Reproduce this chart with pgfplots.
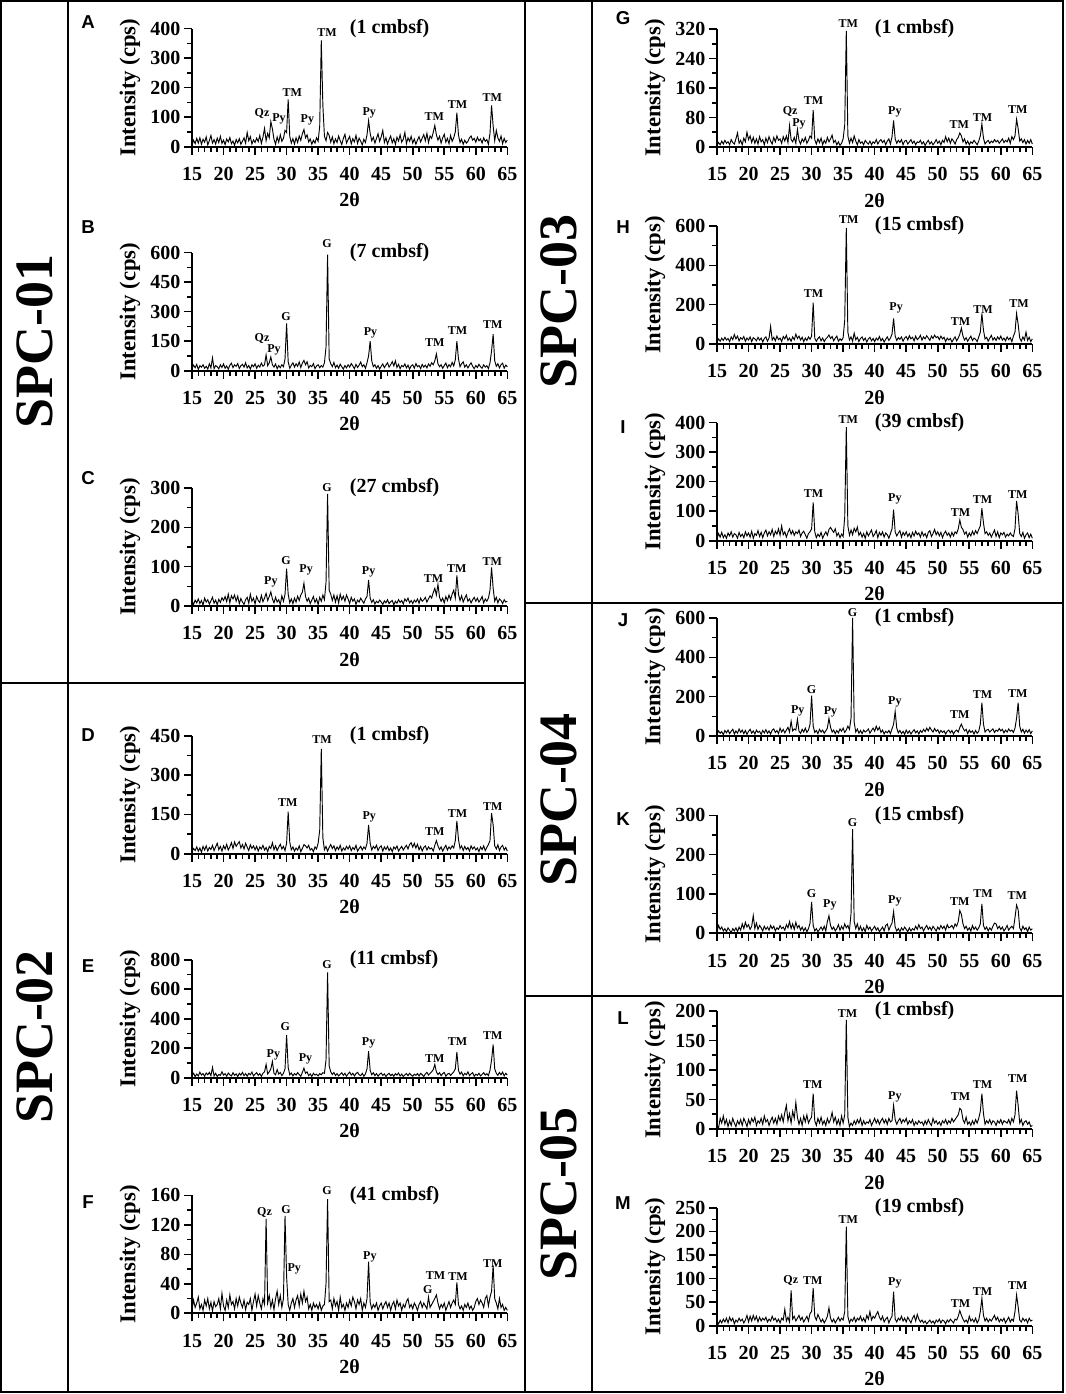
\documentclass[border=0pt]{standalone}
\usepackage{fontspec}
\setmainfont{Liberation Serif}
\newfontfamily\sansfam{Liberation Sans}
\usepackage{pgfplots}
\pgfplotsset{compat=1.18}
\newcommand\tf{\fontsize{15}{15}\selectfont\bfseries}
\newcommand\yf{\fontsize{17}{17}\selectfont\bfseries}
\newcommand\pf{\fontsize{9}{9}\selectfont\bfseries}
\newcommand\lf{\fontsize{14}{14}\selectfont\sansfam\bfseries}
\newcommand\spcf{\fontsize{40.5}{40.5}\selectfont\bfseries}
\newcommand\lab[3]{\node[font=\pf] at (axis cs:#1,#2) {#3};}
\newcommand\decor[1]{%
 \draw[line width=1.5pt] ([xshift=-6pt]rel axis cs:0,0) -- (rel axis cs:0,0);
 \node[rotate=90,font=\yf] at ([xshift=-46.5pt]rel axis cs:0,0.5) {Intensity (cps)};
 \node[font=\tf] at ([yshift=-40pt]rel axis cs:0.5,0) {2θ};
 \node[anchor=west,font=\tf] at (rel axis cs:0.486,1) {(#1 cmbsf)};}
\pgfplotsset{
 xrdline/.style={black, line width=0.7pt, mark=none},
 xrd/.style={
  scale only axis, width=236.5pt, height=88.5pt, anchor=south west,
  xmin=15, xmax=65, ymin=0,
  axis x line*=bottom, axis y line*=left,
  axis line style={line width=1.5pt},
  xtick={15,20,...,65}, minor x tick num=4, minor y tick num=1,
  tick align=outside,
  tick style={black, line width=1.2pt},
  major tick length=6pt, minor tick length=3.75pt,
  tick label style={font=\tf},
  xticklabel style={anchor=center, yshift=-14.5pt},
  yticklabel style={anchor=east, inner sep=0pt, xshift=-2.5pt},
  /pgf/number format/assume math mode=true,
  clip=false,
 }
}
\begin{document}
\begin{tikzpicture}
\useasboundingbox (0,0) rectangle (798.75pt,1045.5pt);
\draw[line width=1.5pt] (0.75pt,1.5pt) rectangle (797pt,1044.75pt);
\draw[line width=1.5pt] (51pt,1.5pt) -- (51pt,1044.75pt);
\draw[line width=1.5pt] (393.75pt,1.5pt) -- (393.75pt,1044.75pt);
\draw[line width=1.5pt] (443.75pt,1.5pt) -- (443.75pt,1044.75pt);
\draw[line width=1.5pt] (0.75pt,533.25pt) -- (393.75pt,533.25pt);
\draw[line width=1.5pt] (393.75pt,593.25pt) -- (797pt,593.25pt);
\draw[line width=1.5pt] (393.75pt,298.5pt) -- (797pt,298.5pt);
\node[rotate=90,font=\spcf] at (25.9pt,789pt) {SPC-01};
\node[rotate=90,font=\spcf] at (25.9pt,267.75pt) {SPC-02};
\node[rotate=90,font=\spcf] at (418.75pt,819pt) {SPC-03};
\node[rotate=90,font=\spcf] at (418.75pt,445.5pt) {SPC-04};
\node[rotate=90,font=\spcf] at (418.75pt,150pt) {SPC-05};
\node[font=\lf] at (66pt,1029.2pt) {A};
\node[font=\lf] at (66pt,875.5pt) {B};
\node[font=\lf] at (66pt,687pt) {C};
\node[font=\lf] at (66pt,494.25pt) {D};
\node[font=\lf] at (66pt,321pt) {E};
\node[font=\lf] at (66pt,144.2pt) {F};
\node[font=\lf] at (467.25pt,1031.8pt) {G};
\node[font=\lf] at (467.25pt,875.5pt) {H};
\node[font=\lf] at (467.25pt,725.5pt) {I};
\node[font=\lf] at (467.25pt,580.5pt) {J};
\node[font=\lf] at (467.25pt,431.25pt) {K};
\node[font=\lf] at (467.25pt,282.2pt) {L};
\node[font=\lf] at (467.25pt,143.5pt) {M};

% ---------- A ----------
\begin{axis}[xrd, at={(144pt,935.5pt)}, ymax=400, ytick={0,100,...,400}]
\addplot[xrdline] coordinates {
(15,5)(15.25,22)(15.5,10)(15.75,28)(16,12)(16.25,30)(16.5,8)(16.75,25)
(17,15)(17.25,33)(17.5,6)(17.75,20)(18,38)(18.25,12)(18.5,24)(18.75,9)
(19,29)(19.25,14)(19.5,35)(19.75,11)(20,22)(20.25,7)(20.5,26)(20.75,16)
(21,31)(21.25,10)(21.5,19)(21.75,4)(22,24)(22.25,13)(22.5,27)(22.75,8)
(23,18)(23.25,30)(23.5,12)(23.75,48)(24,20)(24.25,34)(24.5,9)(24.75,23)
(25,14)(25.25,29)(25.5,17)(25.75,38)(26,11)(26.25,32)(26.5,62)(26.75,20)
(27,45)(27.25,30)(27.5,85)(27.75,60)(28,25)(28.25,8)(28.5,33)(28.75,15)
(29,40)(29.25,18)(29.5,28)(29.75,55)(30,48)(30.25,160)(30.5,35)(30.75,12)
(31,27)(31.25,9)(31.5,30)(31.75,14)(32,36)(32.25,21)(32.5,44)(32.75,58)
(33,30)(33.25,40)(33.5,16)(33.75,26)(34,8)(34.25,22)(34.5,12)(34.75,30)
(35,18)(35.25,70)(35.5,360)(35.75,140)(36,35)(36.25,20)(36.5,48)(36.75,38)
(37,15)(37.25,33)(37.5,10)(37.75,26)(38,14)(38.25,36)(38.5,20)(38.75,7)
(39,28)(39.25,42)(39.5,12)(39.75,24)(40,35)(40.25,9)(40.5,27)(40.75,16)
(41,38)(41.25,11)(41.5,29)(41.75,18)(42,6)(42.25,25)(42.5,14)(42.75,40)
(43,88)(43.25,45)(43.5,20)(43.75,32)(44,12)(44.25,28)(44.5,44)(44.75,18)
(45,33)(45.25,55)(45.5,14)(45.75,30)(46,9)(46.25,24)(46.5,36)(46.75,13)
(47,27)(47.25,8)(47.5,32)(47.75,19)(48,40)(48.25,15)(48.5,25)(48.75,48)
(49,10)(49.25,30)(49.5,18)(49.75,35)(50,12)(50.25,26)(50.5,8)(50.75,22)
(51,34)(51.25,16)(51.5,29)(51.75,41)(52,20)(52.25,45)(52.5,14)(52.75,36)
(53,28)(53.25,48)(53.5,72)(53.75,40)(54,22)(54.25,35)(54.5,12)(54.75,30)
(55,42)(55.25,15)(55.5,28)(55.75,10)(56,38)(56.25,18)(56.5,30)(56.75,50)
(57,115)(57.25,40)(57.5,14)(57.75,25)(58,8)(58.25,22)(58.5,12)(58.75,18)
(59,30)(59.25,36)(59.5,22)(59.75,28)(60,15)(60.25,32)(60.5,20)(60.75,26)
(61,12)(61.25,30)(61.5,18)(61.75,24)(62,8)(62.25,45)(62.5,140)(62.75,70)
(63,20)(63.25,55)(63.5,30)(63.75,18)(64,36)(64.25,10)(64.5,28)(64.75,14)
(65,22)};
\lab{26.1}{114}{Qz}\lab{28.8}{93}{Py}\lab{30.9}{182}{TM}\lab{33.3}{91}{Py}
\lab{36.4}{386}{TM}\lab{43.1}{114}{Py}\lab{53.4}{102}{TM}\lab{57.1}{142}{TM}\lab{62.6}{165}{TM}
\decor{1}
\end{axis}

% ---------- B ----------
\begin{axis}[xrd, at={(144pt,767.5pt)}, ymax=600, ytick={0,150,...,600}]
\addplot[xrdline] coordinates {
(15,10)(15.25,28)(15.5,15)(15.75,32)(16,6)(16.25,25)(16.5,18)(16.75,30)
(17,12)(17.25,22)(17.5,8)(17.75,35)(18,14)(18.25,65)(18.5,10)(18.75,26)
(19,20)(19.25,9)(19.5,30)(19.75,16)(20,34)(20.25,12)(20.5,24)(20.75,7)
(21,28)(21.25,38)(21.5,15)(21.75,30)(22,22)(22.25,36)(22.5,11)(22.75,25)
(23,32)(23.25,18)(23.5,40)(23.75,14)(24,26)(24.25,8)(24.5,30)(24.75,20)
(25,35)(25.25,12)(25.5,28)(25.75,18)(26,38)(26.25,22)(26.5,30)(26.75,80)
(27,25)(27.25,40)(27.5,70)(27.75,30)(28,18)(28.25,34)(28.5,10)(28.75,26)
(29,15)(29.25,30)(29.5,20)(29.75,60)(30,240)(30.25,45)(30.5,12)(30.75,28)
(31,40)(31.25,18)(31.5,35)(31.75,22)(32,44)(32.25,16)(32.5,38)(32.75,52)
(33,30)(33.25,45)(33.5,14)(33.75,27)(34,20)(34.25,36)(34.5,10)(34.75,24)
(35,30)(35.25,15)(35.5,26)(35.75,18)(36,40)(36.25,120)(36.5,590)(36.75,60)
(37,35)(37.25,20)(37.5,42)(37.75,15)(38,28)(38.25,12)(38.5,33)(38.75,20)
(39,8)(39.25,26)(39.5,14)(39.75,30)(40,18)(40.25,36)(40.5,24)(40.75,10)
(41,32)(41.25,16)(41.5,28)(41.75,44)(42,20)(42.25,30)(42.5,12)(42.75,40)
(43,75)(43.25,150)(43.5,50)(43.75,20)(44,30)(44.25,12)(44.5,26)(44.75,8)
(45,22)(45.25,34)(45.5,15)(45.75,28)(46,40)(46.25,18)(46.5,30)(46.75,46)
(47,24)(47.25,50)(47.5,16)(47.75,32)(48,10)(48.25,26)(48.5,20)(48.75,34)
(49,14)(49.25,28)(49.5,8)(49.75,24)(50,30)(50.25,12)(50.5,36)(50.75,20)
(51,26)(51.25,10)(51.5,32)(51.75,18)(52,28)(52.25,14)(52.5,34)(52.75,22)
(53,40)(53.25,30)(53.5,50)(53.75,85)(54,35)(54.25,20)(54.5,30)(54.75,12)
(55,26)(55.25,38)(55.5,15)(55.75,30)(56,20)(56.25,42)(56.5,24)(56.75,55)
(57,150)(57.25,60)(57.5,20)(57.75,35)(58,45)(58.25,18)(58.5,30)(58.75,14)
(59,28)(59.25,40)(59.5,22)(59.75,10)(60,26)(60.25,16)(60.5,32)(60.75,20)
(61,12)(61.25,30)(61.5,18)(61.75,25)(62,10)(62.25,40)(62.5,100)(62.75,185)
(63,50)(63.25,22)(63.5,35)(63.75,14)(64,30)(64.25,38)(64.5,12)(64.75,28)
(65,20)};
\lab{26.1}{164}{Qz}\lab{28.0}{105}{Py}\lab{29.9}{275}{G}\lab{36.4}{644}{G}
\lab{43.3}{190}{Py}\lab{53.5}{142}{TM}\lab{57.1}{203}{TM}\lab{62.7}{232}{TM}
\decor{7}
\end{axis}

% ---------- C ----------
\begin{axis}[xrd, at={(144pt,591pt)}, ymax=300, ytick={0,100,...,300}]
\addplot[xrdline] coordinates {
(15,12)(15.25,4)(15.5,15)(15.75,8)(16,18)(16.25,6)(16.5,14)(16.75,2)
(17,20)(17.25,10)(17.5,16)(17.75,5)(18,13)(18.25,22)(18.5,7)(18.75,15)
(19,3)(19.25,17)(19.5,9)(19.75,21)(20,14)(20.25,24)(20.5,11)(20.75,30)
(21,8)(21.25,26)(21.5,18)(21.75,28)(22,12)(22.25,25)(22.5,6)(22.75,19)
(23,10)(23.25,4)(23.5,16)(23.75,22)(24,7)(24.25,30)(24.5,12)(24.75,20)
(25,5)(25.25,24)(25.5,14)(25.75,9)(26,27)(26.25,11)(26.5,20)(26.75,32)
(27,14)(27.25,24)(27.5,36)(27.75,18)(28,8)(28.25,22)(28.5,10)(28.75,16)
(29,4)(29.25,26)(29.5,12)(29.75,30)(30,95)(30.25,30)(30.5,8)(30.75,18)
(31,6)(31.25,20)(31.5,10)(31.75,25)(32,14)(32.25,28)(32.5,35)(32.75,58)
(33,24)(33.25,12)(33.5,20)(33.75,6)(34,15)(34.25,24)(34.5,9)(34.75,18)
(35,4)(35.25,22)(35.5,12)(35.75,28)(36,16)(36.25,60)(36.5,285)(36.75,40)
(37,30)(37.25,14)(37.5,28)(37.75,10)(38,26)(38.25,8)(38.5,30)(38.75,16)
(39,25)(39.25,12)(39.5,28)(39.75,18)(40,6)(40.25,22)(40.5,12)(40.75,18)
(41,4)(41.25,15)(41.5,10)(41.75,20)(42,13)(42.25,7)(42.5,18)(42.75,24)
(43,66)(43.25,20)(43.5,9)(43.75,16)(44,5)(44.25,12)(44.5,8)(44.75,15)
(45,10)(45.25,4)(45.5,13)(45.75,8)(46,16)(46.25,6)(46.5,11)(46.75,14)
(47,3)(47.25,12)(47.5,7)(47.75,16)(48,9)(48.25,14)(48.5,5)(48.75,18)
(49,12)(49.25,20)(49.5,8)(49.75,14)(50,6)(50.25,15)(50.5,10)(50.75,18)
(51,7)(51.25,20)(51.5,12)(51.75,16)(52,22)(52.25,10)(52.5,18)(52.75,26)
(53,20)(53.25,34)(53.5,45)(53.75,28)(54,55)(54.25,22)(54.5,12)(54.75,20)
(55,8)(55.25,24)(55.5,14)(55.75,28)(56,16)(56.25,30)(56.5,40)(56.75,20)
(57,78)(57.25,30)(57.5,14)(57.75,26)(58,10)(58.25,20)(58.5,28)(58.75,12)
(59,18)(59.25,8)(59.5,16)(59.75,22)(60,12)(60.25,20)(60.5,10)(60.75,16)
(61,24)(61.25,8)(61.5,18)(61.75,12)(62,20)(62.25,40)(62.5,98)(62.75,45)
(63,12)(63.25,22)(63.5,8)(63.75,18)(64,14)(64.25,6)(64.5,16)(64.75,10)
(65,12)};
\lab{27.5}{62}{Py}\lab{29.9}{115}{G}\lab{33.1}{93}{Py}\lab{36.4}{301}{G}
\lab{43.0}{87}{Py}\lab{53.3}{70}{TM}\lab{57.0}{95}{TM}\lab{62.6}{112}{TM}
\decor{27}
\end{axis}

% ---------- D ----------
\begin{axis}[xrd, at={(144pt,405.2pt)}, ymax=450, ytick={0,150,...,450}]
\addplot[xrdline] coordinates {
(15,8)(15.25,20)(15.5,12)(15.75,26)(16,10)(16.25,22)(16.5,6)(16.75,28)
(17,14)(17.25,30)(17.5,10)(17.75,24)(18,16)(18.25,32)(18.5,12)(18.75,26)
(19,40)(19.25,15)(19.5,28)(19.75,10)(20,30)(20.25,18)(20.5,36)(20.75,14)
(21,26)(21.25,42)(21.5,20)(21.75,45)(22,28)(22.25,38)(22.5,46)(22.75,22)
(23,35)(23.25,18)(23.5,40)(23.75,25)(24,12)(24.25,34)(24.5,20)(24.75,30)
(25,15)(25.25,28)(25.5,10)(25.75,26)(26,18)(26.25,32)(26.5,14)(26.75,24)
(27,8)(27.25,28)(27.5,20)(27.75,42)(28,15)(28.25,30)(28.5,12)(28.75,25)
(29,36)(29.25,18)(29.5,28)(29.75,12)(30,40)(30.25,160)(30.5,45)(30.75,15)
(31,26)(31.25,10)(31.5,22)(31.75,14)(32,30)(32.25,8)(32.5,20)(32.75,35)
(33,30)(33.25,22)(33.5,32)(33.75,14)(34,20)(34.25,8)(34.5,26)(34.75,18)
(35,40)(35.25,90)(35.5,400)(35.75,60)(36,15)(36.25,28)(36.5,10)(36.75,24)
(37,35)(37.25,20)(37.5,30)(37.75,12)(38,26)(38.25,16)(38.5,32)(38.75,10)
(39,22)(39.25,14)(39.5,28)(39.75,18)(40,30)(40.25,12)(40.5,24)(40.75,16)
(41,32)(41.25,10)(41.5,20)(41.75,28)(42,14)(42.25,26)(42.5,18)(42.75,40)
(43,110)(43.25,40)(43.5,14)(43.75,28)(44,20)(44.25,32)(44.5,12)(44.75,24)
(45,30)(45.25,10)(45.5,26)(45.75,16)(46,28)(46.25,12)(46.5,22)(46.75,8)
(47,26)(47.25,18)(47.5,30)(47.75,10)(48,20)(48.25,28)(48.5,14)(48.75,24)
(49,32)(49.25,18)(49.5,35)(49.75,42)(50,25)(50.25,40)(50.5,22)(50.75,36)
(51,15)(51.25,28)(51.5,10)(51.75,24)(52,30)(52.25,14)(52.5,26)(52.75,18)
(53,22)(53.25,10)(53.5,32)(53.75,50)(54,30)(54.25,16)(54.5,26)(54.75,10)
(55,22)(55.25,32)(55.5,14)(55.75,26)(56,18)(56.25,30)(56.5,22)(56.75,50)
(57,125)(57.25,55)(57.5,20)(57.75,30)(58,12)(58.25,28)(58.5,16)(58.75,24)
(59,10)(59.25,30)(59.5,18)(59.75,26)(60,14)(60.25,22)(60.5,8)(60.75,26)
(61,16)(61.25,30)(61.5,12)(61.75,24)(62,35)(62.25,50)(62.5,155)(62.75,110)
(63,30)(63.25,18)(63.5,34)(63.75,12)(64,26)(64.25,32)(64.5,14)(64.75,24)
(65,10)};
\lab{30.2}{196}{TM}\lab{35.6}{437}{TM}\lab{43.1}{141}{Py}
\lab{53.5}{84}{TM}\lab{57.1}{154}{TM}\lab{62.7}{180}{TM}
\decor{1}
\end{axis}

% ---------- E ----------
\begin{axis}[xrd, at={(144pt,237.2pt)}, ymax=800, ytick={0,200,...,800}]
\addplot[xrdline] coordinates {
(15,15)(15.25,30)(15.5,8)(15.75,25)(16,12)(16.25,38)(16.5,18)(16.75,28)
(17,10)(17.25,32)(17.5,20)(17.75,36)(18,14)(18.25,70)(18.5,12)(18.75,30)
(19,8)(19.25,22)(19.5,16)(19.75,40)(20,18)(20.25,28)(20.5,10)(20.75,32)
(21,20)(21.25,12)(21.5,34)(21.75,16)(22,26)(22.25,8)(22.5,30)(22.75,18)
(23,36)(23.25,14)(23.5,28)(23.75,10)(24,30)(24.25,20)(24.5,38)(24.75,12)
(25,24)(25.25,34)(25.5,16)(25.75,28)(26,10)(26.25,30)(26.5,40)(26.75,90)
(27,25)(27.25,40)(27.5,60)(27.75,110)(28,30)(28.25,20)(28.5,55)(28.75,25)
(29,36)(29.25,14)(29.5,30)(29.75,60)(30,290)(30.25,70)(30.5,20)(30.75,32)
(31,12)(31.25,28)(31.5,18)(31.75,34)(32,22)(32.25,10)(32.5,36)(32.75,65)
(33,30)(33.25,40)(33.5,14)(33.75,26)(34,8)(34.25,30)(34.5,18)(34.75,24)
(35,12)(35.25,28)(35.5,20)(35.75,34)(36,30)(36.25,120)(36.5,715)(36.75,80)
(37,40)(37.25,22)(37.5,36)(37.75,15)(38,28)(38.25,12)(38.5,24)(38.75,34)
(39,16)(39.25,30)(39.5,10)(39.75,26)(40,38)(40.25,18)(40.5,30)(40.75,12)
(41,28)(41.25,36)(41.5,20)(41.75,14)(42,30)(42.25,10)(42.5,26)(42.75,60)
(43,180)(43.25,50)(43.5,20)(43.75,34)(44,14)(44.25,28)(44.5,10)(44.75,24)
(45,32)(45.25,16)(45.5,26)(45.75,8)(46,22)(46.25,30)(46.5,14)(46.75,24)
(47,10)(47.25,28)(47.5,18)(47.75,32)(48,12)(48.25,24)(48.5,8)(48.75,20)
(49,28)(49.25,14)(49.5,30)(49.75,18)(50,10)(50.25,24)(50.5,16)(50.75,28)
(51,12)(51.25,30)(51.5,20)(51.75,8)(52,26)(52.25,36)(52.5,18)(52.75,30)
(53,40)(53.25,55)(53.5,90)(53.75,40)(54,22)(54.25,34)(54.5,14)(54.75,28)
(55,36)(55.25,10)(55.5,24)(55.75,30)(56,16)(56.25,28)(56.5,40)(56.75,60)
(57,175)(57.25,50)(57.5,24)(57.75,38)(58,12)(58.25,30)(58.5,20)(58.75,40)
(59,14)(59.25,26)(59.5,34)(59.75,10)(60,24)(60.25,16)(60.5,30)(60.75,12)
(61,22)(61.25,34)(61.5,18)(61.75,28)(62,14)(62.25,50)(62.5,120)(62.75,225)
(63,60)(63.25,30)(63.5,16)(63.75,36)(64,20)(64.25,38)(64.5,12)(64.75,30)
(65,18)};
\lab{27.9}{154}{Py}\lab{29.8}{347}{G}\lab{33.0}{125}{Py}\lab{36.4}{766}{G}
\lab{43.0}{238}{Py}\lab{53.5}{131}{TM}\lab{57.1}{245}{TM}\lab{62.7}{283}{TM}
\decor{11}
\end{axis}

% ---------- F ----------
\begin{axis}[xrd, at={(144pt,60.5pt)}, ymax=160, ytick={0,40,...,160}]
\addplot[xrdline] coordinates {
(15,5)(15.25,18)(15.5,8)(15.75,14)(16,22)(16.25,6)(16.5,12)(16.75,4)
(17,18)(17.25,10)(17.5,20)(17.75,6)(18,15)(18.25,3)(18.5,16)(18.75,9)
(19,12)(19.25,20)(19.5,6)(19.75,27)(20,10)(20.25,4)(20.5,18)(20.75,8)
(21,25)(21.25,12)(21.5,16)(21.75,6)(22,20)(22.25,10)(22.5,22)(22.75,14)
(23,8)(23.25,18)(23.5,5)(23.75,15)(24,12)(24.25,20)(24.5,4)(24.75,16)
(25,26)(25.25,10)(25.5,24)(25.75,14)(26,6)(26.25,20)(26.5,12)(26.75,128)
(27,14)(27.25,24)(27.5,8)(27.75,18)(28,5)(28.25,20)(28.5,30)(28.75,12)
(29,24)(29.25,8)(29.5,20)(29.75,132)(30,50)(30.25,12)(30.5,4)(30.75,14)
(31,20)(31.25,8)(31.5,18)(31.75,24)(32,10)(32.25,26)(32.5,14)(32.75,30)
(33,16)(33.25,22)(33.5,6)(33.75,12)(34,4)(34.25,14)(34.5,8)(34.75,12)
(35,6)(35.25,14)(35.5,4)(35.75,10)(36,12)(36.25,40)(36.5,155)(36.75,16)
(37,18)(37.25,6)(37.5,20)(37.75,10)(38,16)(38.25,4)(38.5,22)(38.75,8)
(39,12)(39.25,4)(39.5,14)(39.75,8)(40,18)(40.25,10)(40.5,22)(40.75,16)
(41,6)(41.25,18)(41.5,12)(41.75,20)(42,4)(42.25,14)(42.5,8)(42.75,20)
(43,70)(43.25,15)(43.5,6)(43.75,12)(44,8)(44.25,14)(44.5,4)(44.75,10)
(45,14)(45.25,6)(45.5,12)(45.75,16)(46,8)(46.25,14)(46.5,4)(46.75,12)
(47,16)(47.25,6)(47.5,18)(47.75,10)(48,14)(48.25,4)(48.5,12)(48.75,8)
(49,16)(49.25,20)(49.5,8)(49.75,12)(50,6)(50.25,14)(50.5,10)(50.75,4)
(51,12)(51.25,16)(51.5,8)(51.75,14)(52,10)(52.25,6)(52.5,22)(52.75,8)
(53,12)(53.25,16)(53.5,20)(53.75,25)(54,14)(54.25,6)(54.5,12)(54.75,8)
(55,14)(55.25,4)(55.5,10)(55.75,16)(56,8)(56.25,14)(56.5,18)(56.75,12)
(57,42)(57.25,12)(57.5,6)(57.75,10)(58,4)(58.25,12)(58.5,8)(58.75,14)
(59,6)(59.25,10)(59.5,4)(59.75,8)(60,16)(60.25,20)(60.5,12)(60.75,18)
(61,14)(61.25,8)(61.5,20)(61.75,24)(62,10)(62.25,22)(62.5,30)(62.75,65)
(63,20)(63.25,14)(63.5,6)(63.75,20)(64,8)(64.25,12)(64.5,4)(64.75,8)
(65,4)};
\lab{26.5}{137}{Qz}\lab{29.9}{140}{G}\lab{31.2}{60}{Py}\lab{36.4}{167}{G}
\lab{43.2}{77}{Py}\lab{52.4}{32}{G}\lab{53.6}{51}{TM}\lab{57.2}{50}{TM}\lab{62.7}{67}{TM}
\decor{41}
\end{axis}

% ---------- G ----------
\begin{axis}[xrd, at={(537.75pt,935.25pt)}, ymax=320, ytick={0,80,...,320}]
\addplot[xrdline] coordinates {
(15,4)(15.25,12)(15.5,6)(15.75,16)(16,8)(16.25,18)(16.5,10)(16.75,14)
(17,6)(17.25,20)(17.5,12)(17.75,8)(18,22)(18.25,38)(18.5,10)(18.75,18)
(19,6)(19.25,24)(19.5,14)(19.75,40)(20,20)(20.25,30)(20.5,12)(20.75,26)
(21,10)(21.25,22)(21.5,8)(21.75,28)(22,14)(22.25,20)(22.5,6)(22.75,24)
(23,12)(23.25,28)(23.5,16)(23.75,8)(24,26)(24.25,14)(24.5,30)(24.75,18)
(25,22)(25.25,10)(25.5,28)(25.75,16)(26,30)(26.25,12)(26.5,58)(26.75,20)
(27,14)(27.25,26)(27.5,10)(27.75,48)(28,18)(28.25,8)(28.5,22)(28.75,14)
(29,26)(29.25,10)(29.5,18)(29.75,30)(30,24)(30.25,100)(30.5,20)(30.75,8)
(31,22)(31.25,12)(31.5,24)(31.75,6)(32,18)(32.25,10)(32.5,26)(32.75,14)
(33,22)(33.25,32)(33.5,12)(33.75,18)(34,6)(34.25,14)(34.5,4)(34.75,10)
(35,22)(35.25,60)(35.5,315)(35.75,30)(36,10)(36.25,24)(36.5,12)(36.75,30)
(37,16)(37.25,6)(37.5,20)(37.75,10)(38,14)(38.25,6)(38.5,18)(38.75,12)
(39,8)(39.25,16)(39.5,6)(39.75,14)(40,10)(40.25,20)(40.5,8)(40.75,16)
(41,20)(41.25,12)(41.5,18)(41.75,6)(42,16)(42.25,22)(42.5,8)(42.75,28)
(43,72)(43.25,22)(43.5,10)(43.75,18)(44,12)(44.25,20)(44.5,6)(44.75,16)
(45,18)(45.25,8)(45.5,14)(45.75,20)(46,10)(46.25,16)(46.5,6)(46.75,14)
(47,12)(47.25,18)(47.5,8)(47.75,14)(48,4)(48.25,12)(48.5,18)(48.75,8)
(49,14)(49.25,6)(49.5,12)(49.75,20)(50,10)(50.25,16)(50.5,6)(50.75,18)
(51,12)(51.25,28)(51.5,14)(51.75,24)(52,10)(52.25,22)(52.5,16)(52.75,8)
(53,20)(53.25,26)(53.5,38)(53.75,30)(54,14)(54.25,22)(54.5,8)(54.75,16)
(55,6)(55.25,14)(55.5,10)(55.75,18)(56,12)(56.25,6)(56.5,16)(56.75,30)
(57,63)(57.25,24)(57.5,8)(57.75,14)(58,18)(58.25,10)(58.5,16)(58.75,12)
(59,20)(59.25,14)(59.5,18)(59.75,10)(60,16)(60.25,22)(60.5,12)(60.75,18)
(61,14)(61.25,24)(61.5,10)(61.75,28)(62,20)(62.25,30)(62.5,75)(62.75,50)
(63,16)(63.25,22)(63.5,12)(63.75,20)(64,8)(64.25,18)(64.5,10)(64.75,20)
(65,8)};
\lab{26.6}{96}{Qz}\lab{28.0}{63}{Py}\lab{30.3}{126}{TM}\lab{35.8}{334}{TM}
\lab{43.2}{96}{Py}\lab{53.4}{60}{TM}\lab{57.1}{81}{TM}\lab{62.7}{101}{TM}
\decor{1}
\end{axis}

% ---------- H ----------
\begin{axis}[xrd, at={(537.75pt,787.5pt)}, ymax=600, ytick={0,200,...,600}]
\addplot[xrdline] coordinates {
(15,10)(15.25,26)(15.5,14)(15.75,30)(16,18)(16.25,34)(16.5,20)(16.75,28)
(17,12)(17.25,36)(17.5,22)(17.75,48)(18,26)(18.25,40)(18.5,16)(18.75,32)
(19,24)(19.25,38)(19.5,14)(19.75,30)(20,20)(20.25,36)(20.5,12)(20.75,32)
(21,26)(21.25,16)(21.5,34)(21.75,20)(22,30)(22.25,10)(22.5,28)(22.75,36)
(23,14)(23.25,30)(23.5,90)(23.75,20)(24,34)(24.25,16)(24.5,40)(24.75,22)
(25,30)(25.25,12)(25.5,38)(25.75,26)(26,44)(26.25,18)(26.5,30)(26.75,14)
(27,36)(27.25,22)(27.5,50)(27.75,28)(28,40)(28.25,20)(28.5,34)(28.75,12)
(29,30)(29.25,18)(29.5,36)(29.75,24)(30,40)(30.25,210)(30.5,30)(30.75,14)
(31,28)(31.25,36)(31.5,16)(31.75,30)(32,12)(32.25,26)(32.5,34)(32.75,46)
(33,28)(33.25,38)(33.5,16)(33.75,30)(34,40)(34.25,14)(34.5,26)(34.75,18)
(35,32)(35.25,120)(35.5,590)(35.75,60)(36,20)(36.25,36)(36.5,14)(36.75,55)
(37,22)(37.25,34)(37.5,12)(37.75,28)(38,36)(38.25,18)(38.5,30)(38.75,10)
(39,26)(39.25,34)(39.5,16)(39.75,28)(40,12)(40.25,30)(40.5,20)(40.75,38)
(41,16)(41.25,28)(41.5,10)(41.75,24)(42,36)(42.25,18)(42.5,30)(42.75,50)
(43,130)(43.25,40)(43.5,18)(43.75,32)(44,24)(44.25,36)(44.5,14)(44.75,30)
(45,38)(45.25,20)(45.5,42)(45.75,26)(46,34)(46.25,16)(46.5,40)(46.75,22)
(47,30)(47.25,44)(47.5,20)(47.75,36)(48,26)(48.25,42)(48.5,30)(48.75,18)
(49,40)(49.25,28)(49.5,45)(49.75,32)(50,38)(50.25,22)(50.5,40)(50.75,26)
(51,34)(51.25,12)(51.5,30)(51.75,20)(52,28)(52.25,10)(52.5,24)(52.75,36)
(53,16)(53.25,30)(53.5,50)(53.75,80)(54,40)(54.25,20)(54.5,32)(54.75,14)
(55,28)(55.25,40)(55.5,18)(55.75,30)(56,24)(56.25,12)(56.5,36)(56.75,60)
(57,155)(57.25,70)(57.5,26)(57.75,34)(58,14)(58.25,30)(58.5,44)(58.75,20)
(59,32)(59.25,18)(59.5,36)(59.75,24)(60,40)(60.25,20)(60.5,30)(60.75,16)
(61,36)(61.25,22)(61.5,32)(61.75,12)(62,40)(62.25,60)(62.5,155)(62.75,100)
(63,30)(63.25,14)(63.5,36)(63.75,20)(64,60)(64.25,18)(64.5,34)(64.75,12)
(65,26)};
\lab{30.3}{254}{TM}\lab{35.9}{634}{TM}\lab{43.4}{186}{Py}
\lab{53.6}{113}{TM}\lab{57.2}{176}{TM}\lab{62.9}{206}{TM}
\decor{15}
\end{axis}

% ---------- I ----------
\begin{axis}[xrd, at={(537.75pt,640pt)}, ymax=400, ytick={0,100,...,400}]
\addplot[xrdline] coordinates {
(15,6)(15.25,24)(15.5,12)(15.75,28)(16,10)(16.25,20)(16.5,8)(16.75,26)
(17,16)(17.25,30)(17.5,12)(17.75,24)(18,20)(18.25,8)(18.5,28)(18.75,14)
(19,22)(19.25,10)(19.5,30)(19.75,16)(20,26)(20.25,12)(20.5,32)(20.75,8)
(21,24)(21.25,18)(21.5,34)(21.75,14)(22,28)(22.25,10)(22.5,26)(22.75,36)
(23,16)(23.25,30)(23.5,20)(23.75,38)(24,14)(24.25,32)(24.5,22)(24.75,40)
(25,18)(25.25,50)(25.5,20)(25.75,30)(26,12)(26.25,28)(26.5,40)(26.75,22)
(27,34)(27.25,18)(27.5,30)(27.75,24)(28,36)(28.25,14)(28.5,26)(28.75,32)
(29,20)(29.25,8)(29.5,24)(29.75,30)(30,40)(30.25,130)(30.5,30)(30.75,10)
(31,22)(31.25,14)(31.5,28)(31.75,8)(32,20)(32.25,30)(32.5,18)(32.75,38)
(33,45)(33.25,36)(33.5,28)(33.75,40)(34,16)(34.25,26)(34.5,10)(34.75,22)
(35,14)(35.25,80)(35.5,385)(35.75,50)(36,18)(36.25,36)(36.5,20)(36.75,42)
(37,30)(37.25,46)(37.5,18)(37.75,28)(38,12)(38.25,24)(38.5,8)(38.75,30)
(39,16)(39.25,26)(39.5,36)(39.75,14)(40,22)(40.25,34)(40.5,10)(40.75,28)
(41,18)(41.25,30)(41.5,12)(41.75,26)(42,20)(42.25,8)(42.5,24)(42.75,40)
(43,105)(43.25,30)(43.5,16)(43.75,26)(44,34)(44.25,12)(44.5,28)(44.75,18)
(45,30)(45.25,14)(45.5,24)(45.75,10)(46,28)(46.25,16)(46.5,32)(46.75,20)
(47,26)(47.25,12)(47.5,30)(47.75,16)(48,24)(48.25,10)(48.5,28)(48.75,34)
(49,14)(49.25,24)(49.5,38)(49.75,20)(50,30)(50.25,16)(50.5,28)(50.75,10)
(51,24)(51.25,32)(51.5,18)(51.75,26)(52,12)(52.25,28)(52.5,16)(52.75,30)
(53,24)(53.25,40)(53.5,70)(53.75,45)(54,38)(54.25,22)(54.5,30)(54.75,12)
(55,26)(55.25,16)(55.5,32)(55.75,20)(56,34)(56.25,24)(56.5,38)(56.75,50)
(57,110)(57.25,60)(57.5,24)(57.75,30)(58,18)(58.25,26)(58.5,12)(58.75,24)
(59,36)(59.25,14)(59.5,30)(59.75,10)(60,26)(60.25,20)(60.5,28)(60.75,12)
(61,22)(61.25,16)(61.5,26)(61.75,18)(62,14)(62.25,40)(62.5,135)(62.75,90)
(63,24)(63.25,14)(63.5,28)(63.75,8)(64,20)(64.25,26)(64.5,10)(64.75,22)
(65,8)};
\lab{30.3}{158}{TM}\lab{35.8}{411}{TM}\lab{43.2}{143}{Py}
\lab{53.6}{95}{TM}\lab{57.1}{138}{TM}\lab{62.7}{157}{TM}
\decor{39}
\end{axis}

% ---------- J ----------
\begin{axis}[xrd, at={(537.75pt,493.5pt)}, ymax=600, ytick={0,200,...,600}]
\addplot[xrdline] coordinates {
(15,8)(15.25,26)(15.5,14)(15.75,22)(16,6)(16.25,28)(16.5,16)(16.75,30)
(17,12)(17.25,24)(17.5,34)(17.75,10)(18,26)(18.25,14)(18.5,36)(18.75,18)
(19,30)(19.25,12)(19.5,28)(19.75,8)(20,24)(20.25,34)(20.5,14)(20.75,26)
(21,10)(21.25,30)(21.5,18)(21.75,24)(22,8)(22.25,28)(22.5,16)(22.75,32)
(23,14)(23.25,26)(23.5,10)(23.75,30)(24,36)(24.25,18)(24.5,28)(24.75,12)
(25,40)(25.25,20)(25.5,34)(25.75,16)(26,30)(26.25,44)(26.5,20)(26.75,75)
(27,26)(27.25,36)(27.5,30)(27.75,85)(28,24)(28.25,14)(28.5,34)(28.75,20)
(29,40)(29.25,18)(29.5,30)(29.75,60)(30,205)(30.25,50)(30.5,18)(30.75,28)
(31,12)(31.25,34)(31.5,20)(31.75,30)(32,14)(32.25,26)(32.5,40)(32.75,90)
(33,45)(33.25,20)(33.5,30)(33.75,12)(34,28)(34.25,16)(34.5,36)(34.75,24)
(35,40)(35.25,18)(35.5,30)(35.75,50)(36,34)(36.25,90)(36.5,600)(36.75,70)
(37,20)(37.25,36)(37.5,14)(37.75,28)(38,12)(38.25,30)(38.5,20)(38.75,26)
(39,36)(39.25,14)(39.5,28)(39.75,40)(40,24)(40.25,50)(40.5,30)(40.75,44)
(41,18)(41.25,30)(41.5,10)(41.75,24)(42,16)(42.25,28)(42.5,12)(42.75,36)
(43,60)(43.25,125)(43.5,40)(43.75,16)(44,28)(44.25,12)(44.5,24)(44.75,8)
(45,30)(45.25,14)(45.5,26)(45.75,10)(46,22)(46.25,32)(46.5,16)(46.75,26)
(47,10)(47.25,28)(47.5,18)(47.75,34)(48,22)(48.25,40)(48.5,26)(48.75,44)
(49,30)(49.25,20)(49.5,38)(49.75,24)(50,32)(50.25,14)(50.5,28)(50.75,18)
(51,26)(51.25,10)(51.5,24)(51.75,30)(52,16)(52.25,28)(52.5,10)(52.75,24)
(53,30)(53.25,20)(53.5,44)(53.75,60)(54,40)(54.25,26)(54.5,34)(54.75,12)
(55,30)(55.25,18)(55.5,26)(55.75,10)(56,28)(56.25,14)(56.5,24)(56.75,60)
(57,170)(57.25,60)(57.5,20)(57.75,30)(58,34)(58.25,20)(58.5,28)(58.75,36)
(59,18)(59.25,30)(59.5,24)(59.75,38)(60,26)(60.25,34)(60.5,16)(60.75,30)
(61,20)(61.25,36)(61.5,24)(61.75,30)(62,18)(62.25,40)(62.5,90)(62.75,170)
(63,50)(63.25,20)(63.5,34)(63.75,14)(64,30)(64.25,18)(64.5,32)(64.75,12)
(65,26)};
\lab{27.8}{129}{Py}\lab{30.0}{234}{G}\lab{33.0}{124}{Py}\lab{36.5}{625}{G}
\lab{43.2}{175}{Py}\lab{53.5}{107}{TM}\lab{57.1}{209}{TM}\lab{62.7}{214}{TM}
\decor{1}
\end{axis}

% ---------- K ----------
\begin{axis}[xrd, at={(537.75pt,345.5pt)}, ymax=300, ytick={0,100,...,300}]
\addplot[xrdline] coordinates {
(15,4)(15.25,20)(15.5,10)(15.75,16)(16,6)(16.25,12)(16.5,4)(16.75,14)
(17,8)(17.25,2)(17.5,12)(17.75,6)(18,14)(18.25,4)(18.5,16)(18.75,8)
(19,24)(19.25,12)(19.5,28)(19.75,16)(20,22)(20.25,10)(20.5,18)(20.75,45)
(21,12)(21.25,26)(21.5,10)(21.75,20)(22,14)(22.25,6)(22.5,18)(22.75,10)
(23,16)(23.25,8)(23.5,20)(23.75,12)(24,18)(24.25,6)(24.5,14)(24.75,10)
(25,20)(25.25,12)(25.5,16)(25.75,8)(26,22)(26.25,14)(26.5,30)(26.75,12)
(27,24)(27.25,10)(27.5,28)(27.75,14)(28,20)(28.25,8)(28.5,16)(28.75,6)
(29,14)(29.25,4)(29.5,12)(29.75,26)(30,80)(30.25,20)(30.5,6)(30.75,12)
(31,4)(31.25,10)(31.5,16)(31.75,8)(32,18)(32.25,6)(32.5,30)(32.75,45)
(33,20)(33.25,10)(33.5,16)(33.75,6)(34,12)(34.25,22)(34.5,8)(34.75,18)
(35,10)(35.25,24)(35.5,14)(35.75,20)(36,8)(36.25,50)(36.5,265)(36.75,30)
(37,12)(37.25,24)(37.5,8)(37.75,18)(38,6)(38.25,14)(38.5,4)(38.75,20)
(39,10)(39.25,16)(39.5,6)(39.75,12)(40,18)(40.25,8)(40.5,14)(40.75,4)
(41,10)(41.25,16)(41.5,6)(41.75,20)(42,24)(42.25,8)(42.5,18)(42.75,26)
(43,55)(43.25,16)(43.5,6)(43.75,12)(44,4)(44.25,14)(44.5,8)(44.75,16)
(45,10)(45.25,4)(45.5,14)(45.75,6)(46,12)(46.25,8)(46.5,18)(46.75,10)
(47,22)(47.25,12)(47.5,16)(47.75,6)(48,14)(48.25,20)(48.5,10)(48.75,16)
(49,8)(49.25,18)(49.5,12)(49.75,6)(50,16)(50.25,10)(50.5,20)(50.75,12)
(51,18)(51.25,8)(51.5,22)(51.75,14)(52,16)(52.25,20)(52.5,12)(52.75,24)
(53,18)(53.25,30)(53.5,58)(53.75,48)(54,24)(54.25,12)(54.5,18)(54.75,8)
(55,14)(55.25,6)(55.5,20)(55.75,10)(56,16)(56.25,8)(56.5,14)(56.75,24)
(57,75)(57.25,20)(57.5,10)(57.75,16)(58,6)(58.25,14)(58.5,8)(58.75,18)
(59,26)(59.25,24)(59.5,12)(59.75,18)(60,10)(60.25,16)(60.5,6)(60.75,12)
(61,20)(61.25,8)(61.5,14)(61.75,18)(62,12)(62.25,40)(62.5,72)(62.75,60)
(63,14)(63.25,6)(63.5,18)(63.75,10)(64,14)(64.25,4)(64.5,16)(64.75,8)
(65,12)};
\lab{30.0}{101}{G}\lab{32.9}{72}{Py}\lab{36.5}{281}{G}\lab{43.2}{82}{Py}
\lab{53.5}{82}{TM}\lab{57.2}{100}{TM}\lab{62.6}{95}{TM}
\decor{15}
\end{axis}

% ---------- L ----------
\begin{axis}[xrd, at={(537.75pt,198.75pt)}, ymax=200, ytick={0,50,...,200}]
\addplot[xrdline] coordinates {
(15,6)(15.25,2)(15.5,18)(15.75,10)(16,22)(16.25,8)(16.5,16)(16.75,4)
(17,14)(17.25,6)(17.5,18)(17.75,10)(18,4)(18.25,14)(18.5,8)(18.75,16)
(19,6)(19.25,18)(19.5,12)(19.75,4)(20,16)(20.25,8)(20.5,18)(20.75,12)
(21,20)(21.25,6)(21.5,14)(21.75,10)(22,18)(22.25,8)(22.5,22)(22.75,12)
(23,16)(23.25,6)(23.5,14)(23.75,20)(24,10)(24.25,18)(24.5,8)(24.75,22)
(25,14)(25.25,24)(25.5,12)(25.75,28)(26,40)(26.25,14)(26.5,26)(26.75,10)
(27,30)(27.25,18)(27.5,45)(27.75,20)(28,8)(28.25,18)(28.5,6)(28.75,22)
(29,12)(29.25,24)(29.5,10)(29.75,16)(30,20)(30.25,60)(30.5,14)(30.75,6)
(31,18)(31.25,10)(31.5,20)(31.75,8)(32,14)(32.25,6)(32.5,18)(32.75,10)
(33,16)(33.25,28)(33.5,12)(33.75,20)(34,8)(34.25,16)(34.5,6)(34.75,22)
(35,10)(35.25,24)(35.5,185)(35.75,20)(36,4)(36.25,10)(36.5,6)(36.75,14)
(37,8)(37.25,16)(37.5,10)(37.75,18)(38,6)(38.25,14)(38.5,8)(38.75,12)
(39,10)(39.25,16)(39.5,6)(39.75,12)(40,18)(40.25,10)(40.5,16)(40.75,8)
(41,14)(41.25,18)(41.5,10)(41.75,16)(42,8)(42.25,18)(42.5,12)(42.75,14)
(43,40)(43.25,16)(43.5,8)(43.75,14)(44,18)(44.25,10)(44.5,16)(44.75,12)
(45,18)(45.25,8)(45.5,14)(45.75,10)(46,16)(46.25,6)(46.5,12)(46.75,8)
(47,14)(47.25,10)(47.5,12)(47.75,6)(48,14)(48.25,8)(48.5,16)(48.75,10)
(49,6)(49.25,18)(49.5,10)(49.75,14)(50,8)(50.25,12)(50.5,6)(50.75,14)
(51,10)(51.25,16)(51.5,8)(51.75,14)(52,10)(52.25,18)(52.5,12)(52.75,16)
(53,20)(53.25,24)(53.5,35)(53.75,32)(54,16)(54.25,10)(54.5,20)(54.75,8)
(55,12)(55.25,6)(55.5,14)(55.75,8)(56,16)(56.25,10)(56.5,18)(56.75,30)
(57,60)(57.25,26)(57.5,8)(57.75,14)(58,10)(58.25,16)(58.5,8)(58.75,14)
(59,12)(59.25,6)(59.5,14)(59.75,10)(60,16)(60.25,8)(60.5,14)(60.75,12)
(61,10)(61.25,16)(61.5,8)(61.75,18)(62,12)(62.25,24)(62.5,65)(62.75,40)
(63,10)(63.25,16)(63.5,6)(63.75,12)(64,14)(64.25,8)(64.5,12)(64.75,4)
(65,6)};
\lab{30.2}{76}{TM}\lab{35.7}{196}{TM}\lab{43.2}{55}{Py}
\lab{53.6}{55}{TM}\lab{57.1}{75}{TM}\lab{62.7}{85}{TM}
\decor{1}
\end{axis}

% ---------- M ----------
\begin{axis}[xrd, at={(537.75pt,51.2pt)}, ymax=250, ytick={0,50,...,250}]
\addplot[xrdline] coordinates {
(15,10)(15.25,4)(15.5,12)(15.75,6)(16,14)(16.25,8)(16.5,16)(16.75,6)
(17,18)(17.25,10)(17.5,16)(17.75,4)(18,12)(18.25,8)(18.5,16)(18.75,10)
(19,14)(19.25,6)(19.5,12)(19.75,22)(20,8)(20.25,20)(20.5,10)(20.75,22)
(21,12)(21.25,20)(21.5,8)(21.75,18)(22,10)(22.25,16)(22.5,12)(22.75,18)
(23,8)(23.25,14)(23.5,10)(23.75,20)(24,12)(24.25,16)(24.5,8)(24.75,14)
(25,6)(25.25,16)(25.5,12)(25.75,35)(26,10)(26.25,18)(26.5,8)(26.75,75)
(27,14)(27.25,20)(27.5,10)(27.75,16)(28,22)(28.25,12)(28.5,18)(28.75,8)
(29,14)(29.25,20)(29.5,10)(29.75,26)(30,30)(30.25,80)(30.5,20)(30.75,12)
(31,24)(31.25,16)(31.5,8)(31.75,14)(32,6)(32.25,12)(32.5,20)(32.75,38)
(33,16)(33.25,8)(33.5,14)(33.75,6)(34,12)(34.25,18)(34.5,10)(34.75,16)
(35,12)(35.25,30)(35.5,210)(35.75,20)(36,6)(36.25,14)(36.5,10)(36.75,18)
(37,8)(37.25,16)(37.5,12)(37.75,20)(38,10)(38.25,16)(38.5,8)(38.75,22)
(39,14)(39.25,30)(39.5,12)(39.75,20)(40,16)(40.25,24)(40.5,30)(40.75,18)
(41,12)(41.25,20)(41.5,8)(41.75,14)(42,18)(42.25,6)(42.5,14)(42.75,20)
(43,72)(43.25,14)(43.5,8)(43.75,16)(44,12)(44.25,20)(44.5,10)(44.75,16)
(45,8)(45.25,18)(45.5,12)(45.75,6)(46,16)(46.25,22)(46.5,10)(46.75,24)
(47,14)(47.25,8)(47.5,12)(47.75,6)(48,10)(48.25,4)(48.5,8)(48.75,12)
(49,6)(49.25,10)(49.5,4)(49.75,12)(50,8)(50.25,14)(50.5,6)(50.75,12)
(51,10)(51.25,4)(51.5,12)(51.75,8)(52,14)(52.25,10)(52.5,6)(52.75,14)
(53,12)(53.25,20)(53.5,32)(53.75,22)(54,14)(54.25,8)(54.5,12)(54.75,6)
(55,20)(55.25,10)(55.5,14)(55.75,8)(56,16)(56.25,6)(56.5,12)(56.75,30)
(57,58)(57.25,22)(57.5,10)(57.75,16)(58,8)(58.25,14)(58.5,10)(58.75,16)
(59,22)(59.25,12)(59.5,18)(59.75,8)(60,14)(60.25,10)(60.5,16)(60.75,6)
(61,12)(61.25,18)(61.5,8)(61.75,14)(62,10)(62.25,30)(62.5,65)(62.75,40)
(63,12)(63.25,8)(63.5,16)(63.75,10)(64,14)(64.25,6)(64.5,16)(64.75,10)
(65,12)};
\lab{26.7}{95}{Qz}\lab{30.2}{95}{TM}\lab{35.8}{224}{TM}\lab{43.2}{91}{Py}
\lab{53.6}{47}{TM}\lab{57.1}{72}{TM}\lab{62.7}{86}{TM}
\decor{19}
\end{axis}
\end{tikzpicture}
\end{document}
